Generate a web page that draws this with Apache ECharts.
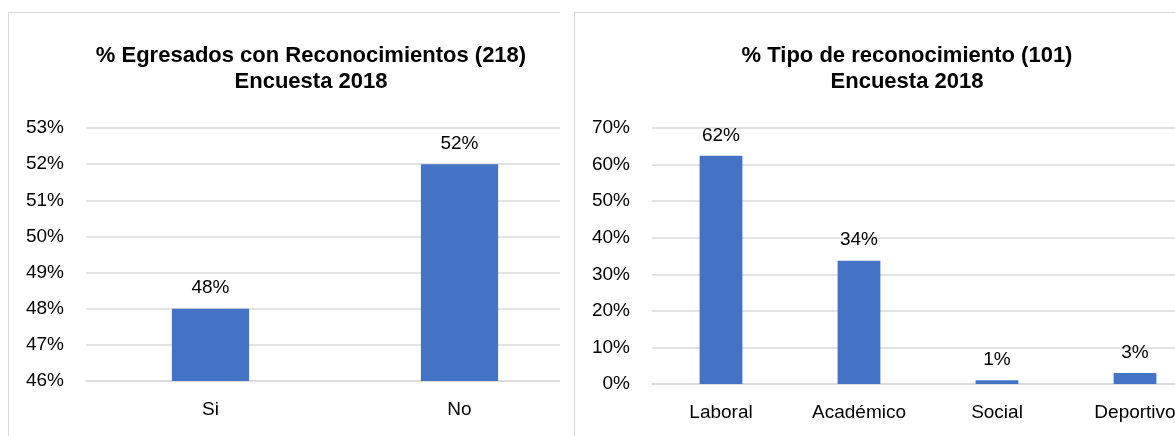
<!DOCTYPE html>
<html>
<head>
<meta charset="utf-8">
<script src="https://cdn.jsdelivr.net/npm/echarts@6/dist/echarts.min.js"></script>
<style>
  html, body { margin: 0; padding: 0; background: #fff; }
  body { width: 1175px; height: 436px; position: relative; overflow: hidden; }
  .clip { position: absolute; overflow: hidden; }
  .panel { position: absolute; left: 0; top: 0; border: 1px solid #d9d9d9; box-sizing: border-box; background: #fff; }
  .chart { width: 100%; height: 100%; }
</style>
</head>
<body>
<div class="clip" style="left:8px; top:12px; width:552px; height:440px;">
  <div class="panel" style="width:596px; height:440px;"><div id="left" class="chart"></div></div>
</div>
<div class="clip" style="left:574px; top:12px; width:620px; height:440px;">
  <div class="panel" style="width:656px; height:440px;"><div id="right" class="chart"></div></div>
</div>
<script>
// datos encuesta 2018
const catsEgresados = ['Si', 'No']
const valsEgresados = [48, 52]

const catsTipo = ['Laboral', 'Académico', 'Social', 'Deportivo']
const valsTipo = [62.4, 33.7, 1.0, 3.0]

const FONT = '"Liberation Sans", Arial, sans-serif'

function makeOption (title, cats, vals, yMin, yMax, yStep, grid) {
  return {
    animation: false,
    title: {
      text: title,
      left: '50%',
      top: 25,
      textAlign: 'center',
      textStyle: { fontFamily: FONT, fontSize: 22, fontWeight: 'bold', color: '#000', lineHeight: 26 }
    },
    grid: grid,
    xAxis: {
      type: 'category',
      data: cats,
      axisLine: { lineStyle: { color: '#d9d9d9', width: 1.5 } },
      axisTick: { show: false },
      axisLabel: { fontFamily: FONT, fontSize: 19, color: '#000', margin: 19 }
    },
    yAxis: {
      type: 'value',
      min: yMin,
      max: yMax,
      interval: yStep,
      axisLine: { show: false },
      axisTick: { show: false },
      axisLabel: { fontFamily: FONT, fontSize: 19, color: '#000', margin: 22, formatter: '{value}%' },
      splitLine: { lineStyle: { color: '#d9d9d9', width: 1.5 } }
    },
    series: [
      {
        type: 'bar',
        data: vals,
        barWidth: '31%',
        itemStyle: { color: '#4472c4' },
        label: {
          show: true,
          position: 'top',
          distance: 11,
          fontFamily: FONT,
          fontSize: 19,
          color: '#000',
          formatter: p => Math.round(p.value) + '%'
        }
      }
    ]
  }
}

const leftChart = echarts.init(document.getElementById('left'))
leftChart.setOption(makeOption('% Egresados con Reconocimientos (218)\nEncuesta 2018',
  catsEgresados, valsEgresados, 46, 53, 1, { left: 77, right: 19, top: 115, bottom: 70 }))

const rightChart = echarts.init(document.getElementById('right'))
rightChart.setOption(makeOption('% Tipo de reconocimiento (101)\nEncuesta 2018',
  catsTipo, valsTipo, 0, 70, 10, { left: 77, right: 25, top: 115, bottom: 67 }))
</script>
</body>
</html>
